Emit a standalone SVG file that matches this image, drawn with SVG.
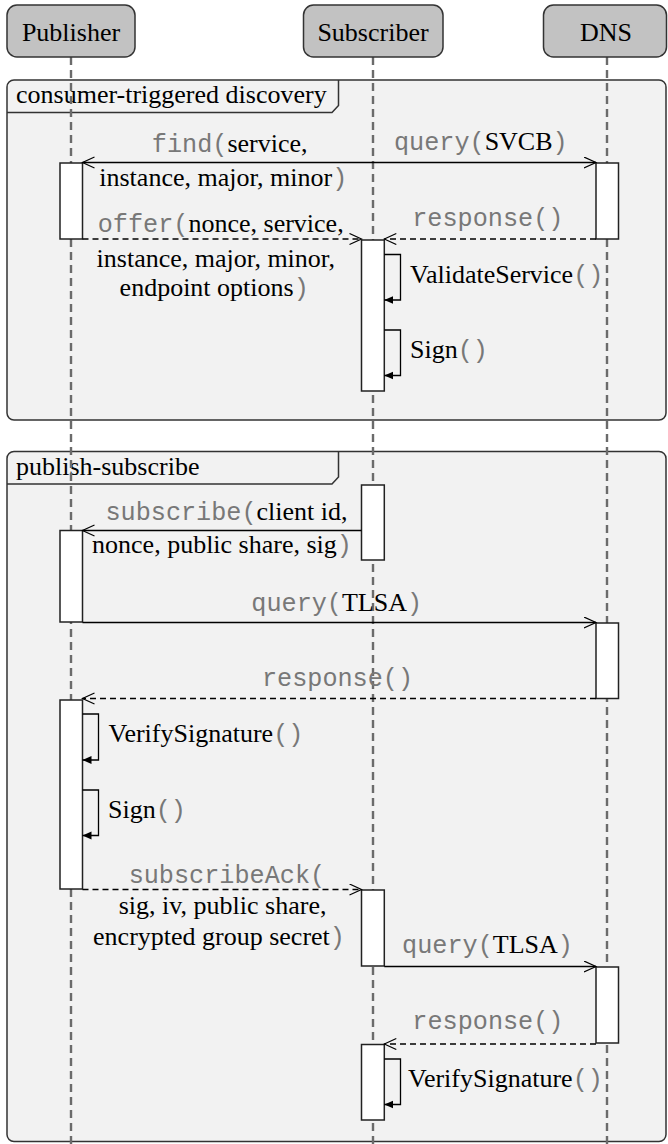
<svg xmlns="http://www.w3.org/2000/svg" width="668" height="1144" viewBox="0 0 668 1144">
<style>
.bg{fill:#ffffff}
.actor{fill:#c2c2c2;stroke:#333;stroke-width:1.5}
.frame{fill:#f2f2f2;stroke:#333;stroke-width:1.5}
.tab{fill:none;stroke:#333;stroke-width:1.5}
.life{stroke:#6b6b6b;stroke-width:2.4;stroke-dasharray:8 5;fill:none}
.act{fill:#fff;stroke:#222;stroke-width:1.5}
.msg{fill:none;stroke:#000;stroke-width:1.3}
.dash{stroke-dasharray:6 4}
.t{font-family:"Liberation Serif","Times New Roman",serif;font-size:26px;fill:#000}
.m{font-family:"Liberation Mono","Courier New",monospace;font-size:25.2px;fill:#787878}
.c{text-anchor:middle}
</style>
<defs>
<marker id="open" markerUnits="userSpaceOnUse" markerWidth="14" markerHeight="13" refX="12.5" refY="6" orient="auto"><path d="M0.5,0.5 L12.5,6 L0.5,11.5" fill="none" stroke="#000" stroke-width="1.2"/></marker>
<marker id="fill" markerUnits="userSpaceOnUse" markerWidth="10" markerHeight="9" refX="9" refY="4.5" orient="auto"><path d="M0,0.5 L9,4.5 L0,8.5 z" fill="#000"/></marker>
</defs>
<rect class="bg" x="0" y="0" width="668" height="1144"/>

<g id="frame-discovery">
<rect class="frame" x="7" y="80" width="659" height="340" rx="7"/>
<path class="tab" d="M7,112.5 H332 L338.5,105.5 V80"/>
<text class="t" x="16" y="103">consumer-triggered discovery</text>
</g>
<g id="frame-pubsub">
<rect class="frame" x="7" y="451.5" width="659" height="690" rx="7"/>
<path class="tab" d="M7,484 H332 L338.5,477 V451.5"/>
<text class="t" x="16" y="475">publish-subscribe</text>
</g>

<g id="lifelines">
<line class="life" x1="71" y1="57" x2="71" y2="1144"/>
<line class="life" x1="373" y1="57" x2="373" y2="1144"/>
<line class="life" x1="607" y1="57" x2="607" y2="1144"/>
</g>

<g id="publisher">
<rect class="actor" x="7" y="5" width="128" height="52" rx="10"/>
<text class="t c" x="71" y="41">Publisher</text>
</g>
<g id="subscriber">
<rect class="actor" x="303.5" y="5" width="139.5" height="52" rx="10"/>
<text class="t c" x="373" y="41">Subscriber</text>
</g>
<g id="dns">
<rect class="actor" x="543.5" y="5" width="123" height="52" rx="10"/>
<text class="t c" x="606" y="41">DNS</text>
</g>

<g id="activations">
<rect class="act" x="60" y="163" width="22.5" height="76"/>
<rect class="act" x="596" y="163" width="22.5" height="76"/>
<rect class="act" x="361.5" y="240" width="22.8" height="151"/>
<rect class="act" x="361.5" y="485" width="22.8" height="75"/>
<rect class="act" x="60" y="530.5" width="22.5" height="91.5"/>
<rect class="act" x="596" y="623" width="22.5" height="75.5"/>
<rect class="act" x="60" y="700" width="22.5" height="189"/>
<rect class="act" x="361.5" y="890" width="22.8" height="76"/>
<rect class="act" x="596" y="967" width="22.5" height="76"/>
<rect class="act" x="361.5" y="1044.5" width="22.8" height="75.5"/>
</g>

<g id="connectors">
<line class="msg" x1="373" y1="162.5" x2="82.5" y2="162.5" marker-end="url(#open)"/>
<line class="msg" x1="373" y1="162.5" x2="596" y2="162.5" marker-end="url(#open)"/>
<line class="msg dash" x1="82.5" y1="239" x2="361.5" y2="239" marker-end="url(#open)"/>
<line class="msg dash" x1="596" y1="239" x2="384.3" y2="239" marker-end="url(#open)"/>
<path class="msg" d="M384.3,254.5 H400.5 V300 H384.3" marker-end="url(#fill)"/>
<path class="msg" d="M384.3,330 H400.5 V375.5 H384.3" marker-end="url(#fill)"/>
<line class="msg" x1="361.5" y1="530.5" x2="82.5" y2="530.5" marker-end="url(#open)"/>
<line class="msg" x1="82.5" y1="622.5" x2="596" y2="622.5" marker-end="url(#open)"/>
<line class="msg dash" x1="596" y1="698.5" x2="82.5" y2="698.5" marker-end="url(#open)"/>
<path class="msg" d="M82.5,714 H98.5 V760 H82.5" marker-end="url(#fill)"/>
<path class="msg" d="M82.5,790 H98.5 V835.5 H82.5" marker-end="url(#fill)"/>
<line class="msg dash" x1="82.5" y1="889.5" x2="361.5" y2="889.5" marker-end="url(#open)"/>
<line class="msg" x1="384.3" y1="966.5" x2="596" y2="966.5" marker-end="url(#open)"/>
<line class="msg dash" x1="596" y1="1044" x2="384.3" y2="1044" marker-end="url(#open)"/>
<path class="msg" d="M384.3,1059 H400.5 V1104.5 H384.3" marker-end="url(#fill)"/>
</g>

<g id="labels">
<text class="c" x="229.7" y="152"><tspan class="m">find(</tspan><tspan class="t">service,</tspan></text>
<text class="c" x="223.3" y="185.5"><tspan class="t">instance, major, minor</tspan><tspan class="m">)</tspan></text>
<text class="c" x="480.8" y="150"><tspan class="m">query(</tspan><tspan class="t">SVCB</tspan><tspan class="m">)</tspan></text>
<text class="c" x="220.7" y="232"><tspan class="m">offer(</tspan><tspan class="t">nonce, service,</tspan></text>
<text class="t c" x="215.8" y="266.5">instance, major, minor,</text>
<text class="c" x="214.2" y="295.5"><tspan class="t">endpoint options</tspan><tspan class="m">)</tspan></text>
<text class="m c" x="487.8" y="225.5">response()</text>
<text x="410" y="283"><tspan class="t">ValidateService</tspan><tspan class="m">()</tspan></text>
<text x="410" y="358"><tspan class="t">Sign</tspan><tspan class="m">()</tspan></text>
<text class="c" x="226.5" y="520"><tspan class="m">subscribe(</tspan><tspan class="t">client id,</tspan></text>
<text class="c" x="222" y="553"><tspan class="t">nonce, public share, sig</tspan><tspan class="m">)</tspan></text>
<text class="c" x="336.7" y="610.5"><tspan class="m">query(</tspan><tspan class="t">TLSA</tspan><tspan class="m">)</tspan></text>
<text class="m c" x="337.5" y="685.5">response()</text>
<text x="108.5" y="742"><tspan class="t">VerifySignature</tspan><tspan class="m">()</tspan></text>
<text x="108" y="818"><tspan class="t">Sign</tspan><tspan class="m">()</tspan></text>
<text class="m c" x="226.9" y="882.5">subscribeAck(</text>
<text class="t c" x="222.6" y="913.5">sig, iv, public share,</text>
<text class="c" x="219" y="945"><tspan class="t">encrypted group secret</tspan><tspan class="m">)</tspan></text>
<text class="c" x="487.5" y="953"><tspan class="m">query(</tspan><tspan class="t">TLSA</tspan><tspan class="m">)</tspan></text>
<text class="m c" x="487.9" y="1029">response()</text>
<text x="408" y="1087"><tspan class="t">VerifySignature</tspan><tspan class="m">()</tspan></text>
</g>
</svg>
